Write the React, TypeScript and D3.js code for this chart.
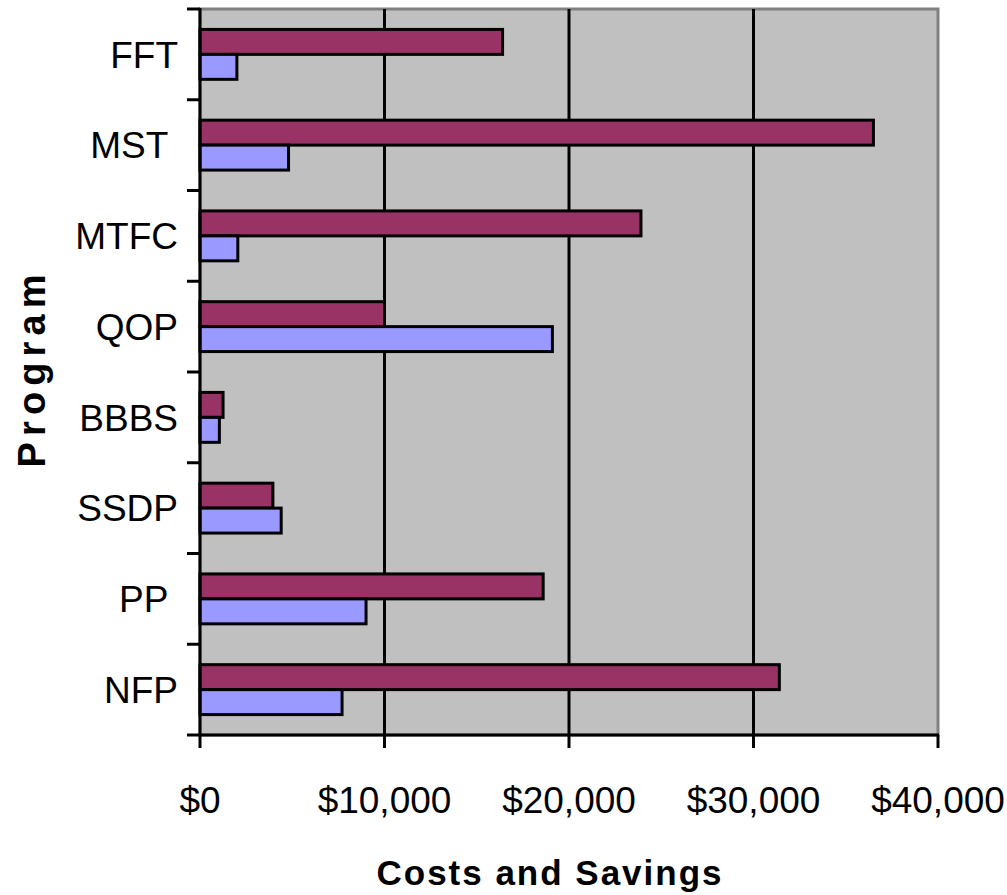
import React from 'react';
import * as d3 from 'd3';

const programs = ['FFT', 'MST', 'MTFC', 'QOP', 'BBBS', 'SSDP', 'PP', 'NFP'];
const programLabels = ['FFT', 'MST ', 'MTFC', 'QOP', 'BBBS', 'SSDP', 'PP ', 'NFP'];
const savings = [16400, 36500, 23900, 10000, 1250, 3950, 18600, 31400];
const costs = [2000, 4800, 2050, 19100, 1050, 4400, 9000, 7700];
const series = ['savings', 'costs'];
const seriesColors = ['#993366', '#9999FF'];
const xTicks = [0, 10000, 20000, 30000, 40000];

const LEFT = 200;
const RIGHT = 938;
const TOP = 9;
const BOTTOM = 735;
const FONT = 'Arial, "Liberation Sans", sans-serif';

const App = () => {
  const x = d3.scaleLinear().domain([0, 40000]).range([LEFT, RIGHT]);
  const y = d3.scaleBand()
    .domain(programs)
    .range([TOP, BOTTOM])
    .paddingInner(0.45)
    .paddingOuter(0.225);
  const ySub = d3.scaleBand()
    .domain(series)
    .range([0, y.bandwidth()]);

  const step = y.step();
  const boundaries = d3.range(programs.length + 1).map(i => TOP + i * step);
  const values = [savings, costs];
  const fmt = d3.format('$,');

  return (
    <svg width={1007} height={895} style={{ position: 'absolute', left: 0, top: 0 }}>
      <rect x={LEFT} y={TOP} width={RIGHT - LEFT} height={BOTTOM - TOP} fill="#C0C0C0" stroke="#808080" strokeWidth={3} />
      {xTicks.slice(1, -1).map(t => (
        <line key={t} x1={x(t)} x2={x(t)} y1={TOP} y2={BOTTOM} stroke="#000" strokeWidth={3} />
      ))}
      {programs.map((p, i) => (
        <g key={p}>
          {series.map((s, j) => (
            <rect
              key={s}
              x={x(0)}
              y={(y(p) ?? 0) + (ySub(s) ?? 0)}
              width={x(values[j][i]) - x(0)}
              height={ySub.bandwidth()}
              fill={seriesColors[j]}
              stroke="#000"
              strokeWidth={3}
            />
          ))}
          <text
            x={178}
            y={(y(p) ?? 0) + y.bandwidth() / 2}
            dy="0.36em"
            textAnchor="end"
            fontFamily={FONT}
            fontSize={37}
            style={{ whiteSpace: 'pre' }}
          >
            {programLabels[i]}
          </text>
        </g>
      ))}
      <line x1={LEFT} x2={LEFT} y1={TOP - 1} y2={BOTTOM} stroke="#000" strokeWidth={3} />
      <line x1={LEFT} x2={RIGHT + 1} y1={BOTTOM} y2={BOTTOM} stroke="#000" strokeWidth={3} />
      {boundaries.map(b => (
        <line key={b} x1={187} x2={LEFT} y1={b} y2={b} stroke="#000" strokeWidth={3} />
      ))}
      {xTicks.map(t => (
        <g key={t}>
          <line x1={x(t)} x2={x(t)} y1={BOTTOM} y2={748} stroke="#000" strokeWidth={3} />
          <text x={x(t)} y={813} textAnchor="middle" fontFamily={FONT} fontSize={37}>
            {fmt(t)}
          </text>
        </g>
      ))}
      <text
        x={549}
        y={885}
        textAnchor="middle"
        fontFamily={FONT}
        fontWeight="bold"
        fontSize={35}
        textLength={345}
        lengthAdjust="spacing"
      >
        Costs and Savings
      </text>
      <text
        transform="translate(45,371) rotate(-90)"
        textAnchor="middle"
        fontFamily={FONT}
        fontWeight="bold"
        fontSize={38}
        textLength={193}
        lengthAdjust="spacing"
      >
        Program
      </text>
    </svg>
  );
};

export default App;
